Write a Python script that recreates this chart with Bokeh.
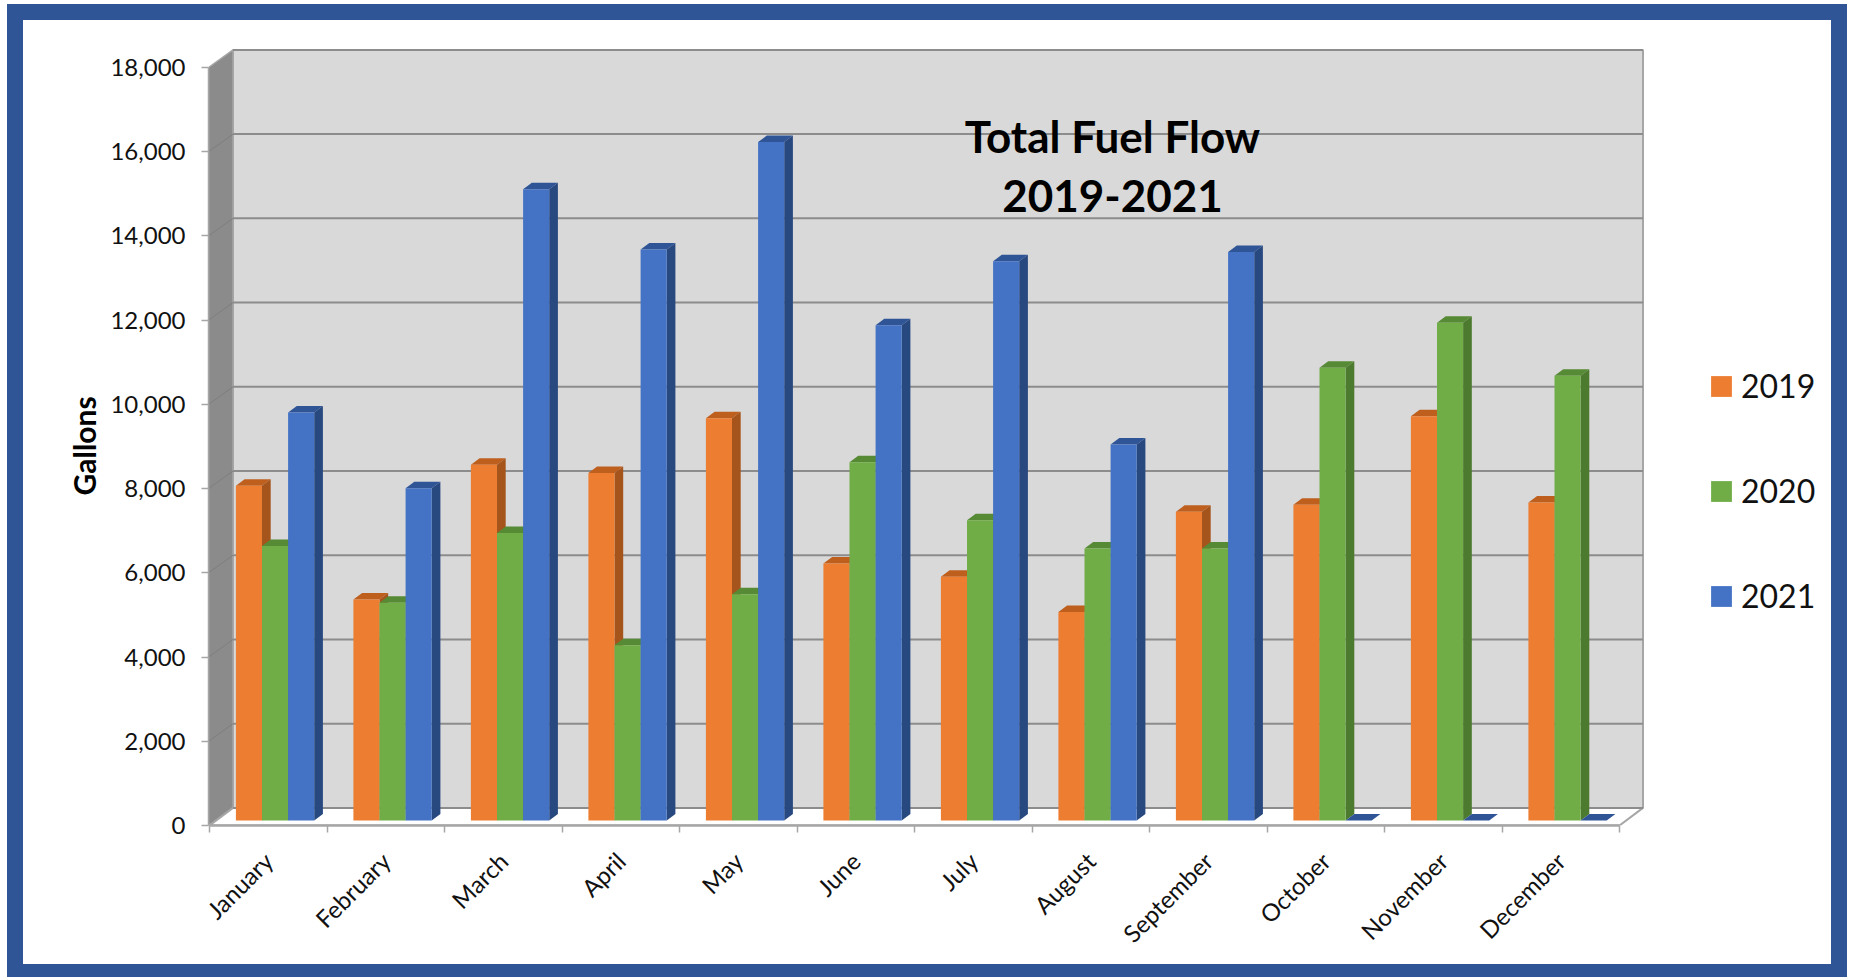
from math import pi
from bokeh.plotting import figure
from bokeh.models import Range1d, FixedTicker, NumeralTickFormatter, Legend, LegendItem, Title
from bokeh.core.properties import value
from bokeh.embed import file_html
from bokeh.resources import INLINE

months = ["January", "February", "March", "April", "May", "June", "July",
          "August", "September", "October", "November", "December"]
fuel_2019 = [7950, 5250, 8450, 8250, 9550, 6100, 5790, 4950, 7330, 7500, 9600, 7550]
fuel_2020 = [6520, 5170, 6830, 4160, 5370, 8510, 7130, 6460, 6460, 10750, 11820, 10560]
fuel_2021 = [9690, 7890, 14990, 13560, 16110, 11760, 13280, 8930, 13500, 0, 0, 0]
y_ticks = [0, 2000, 4000, 6000, 8000, 10000, 12000, 14000, 16000, 18000]
series_names = ["2019", "2020", "2021"]

FRONT = ["#ED7D31", "#70AD47", "#4472C4"]
TOP = ["#BE5F1E", "#578A35", "#2F5597"]
SIDE = ["#A5541C", "#4C7A2E", "#284880"]
GRID = "#8C8C8C"
EDGE = "#A6A6A6"
PANEL = "#2F5597"

# pixel geometry of the plot box
CAT_PX = 117.5
PX_PER_GAL = 758 / 18000
W, H = 1852, 977
LEFT, FLOOR = 208, 825
px_x = lambda px: px / CAT_PX
px_y = lambda px: px / PX_PER_GAL
WALL_DX, WALL_DY = px_x(23.5), px_y(17.6)
BAR_DX, BAR_DY = px_x(8.7), px_y(6.5)
BASE = px_y(5)
BAR_OFFSET, BAR_W = px_x(26.4), px_x(26.1)

def strip(x, y, w, h):
    return f"linear-gradient({PANEL},{PANEL}) {x}px {y}px / {w}px {h}px no-repeat"

x_start = -px_x(1)
p = figure(width=W, height=H, output_backend="svg", toolbar_location=None,
           frame_width=W - LEFT, frame_height=FLOOR,
           x_range=Range1d(x_start, x_start + px_x(W - LEFT)),
           y_range=Range1d(0, px_y(FLOOR)),
           min_border_left=LEFT, min_border_top=0, min_border_right=0,
           min_border_bottom=H - FLOOR,
           background_fill_alpha=0, border_fill_alpha=0, outline_line_color=None,
           styles={"background": ", ".join([strip(7, 4, 1840, 16), strip(7, 964, 1840, 13),
                                            strip(7, 4, 16, 973), strip(1831, 4, 16, 973)])})
p.grid.visible = False

# 3D box: back wall, side wall, floor
p.quad(left=[WALL_DX], right=[12 + WALL_DX], bottom=[WALL_DY], top=[18000 + WALL_DY],
       fill_color="#D9D9D9", line_color=EDGE, line_width=2)
p.patch([x_start, WALL_DX, WALL_DX, x_start],
        [0, WALL_DY, 18000 + WALL_DY, 18000],
        fill_color="#8B8B8B", line_color=EDGE, line_width=1.5)
p.patch([0, WALL_DX, 12 + WALL_DX, 12], [0, WALL_DY, WALL_DY, 0],
        fill_color="white", line_color=EDGE, line_width=2)
p.multi_line([[x_start, WALL_DX] for _ in y_ticks[1:-1]],
             [[v, v + WALL_DY] for v in y_ticks[1:-1]], line_color="#7E7E7E", line_width=1)
p.multi_line([[WALL_DX, 12 + WALL_DX] for _ in y_ticks],
             [[v + WALL_DY, v + WALL_DY] for v in y_ticks], line_color=GRID, line_width=2)

# bars
renderers = []
for s, vals in enumerate([fuel_2019, fuel_2020, fuel_2021]):
    x0 = [i + BAR_OFFSET + s * BAR_W for i in range(12)]
    x1 = [x + BAR_W for x in x0]
    t = [v + BASE for v in vals]
    p.patches([[a, a + BAR_DX, b + BAR_DX, b] for a, b in zip(x0, x1)],
              [[h, h + BAR_DY, h + BAR_DY, h] for h in t],
              fill_color=TOP[s], line_color=None)
    p.patches([[b, b + BAR_DX, b + BAR_DX, b] for b in x1],
              [[BASE, BASE + BAR_DY, h + BAR_DY, h] for h in t],
              fill_color=SIDE[s], line_color=None)
    renderers.append(p.quad(left=x0, right=x1, bottom=BASE, top=t,
                            fill_color=FRONT[s], line_color=None))

# axes
TICK_FONT = "Lato"
xa = p.xaxis[0]
xa.ticker = FixedTicker(ticks=[i + 0.5 for i in range(12)], minor_ticks=list(range(13)))
xa.major_label_overrides = {i + 0.5: m for i, m in enumerate(months)}
xa.major_label_orientation = pi / 4
xa.major_label_text_font = TICK_FONT
xa.major_label_text_font_size = "24px"
xa.major_label_text_color = "#111111"
xa.major_label_standoff = 24
xa.major_tick_line_color = None
xa.minor_tick_in = 0
xa.minor_tick_out = 7
xa.minor_tick_line_color = EDGE
xa.minor_tick_line_width = 1.5
xa.axis_line_color = EDGE
xa.axis_line_width = 2.5
xa.bounds = (0, 12)

ya = p.yaxis[0]
ya.ticker = FixedTicker(ticks=y_ticks)
ya.formatter = NumeralTickFormatter(format="0,0")
ya.major_label_text_font = TICK_FONT
ya.major_label_text_font_size = "24px"
ya.major_label_text_color = "#111111"
ya.major_label_standoff = 16
ya.major_tick_in = 0
ya.major_tick_out = 7
ya.major_tick_line_color = EDGE
ya.major_tick_line_width = 1.5
ya.minor_tick_line_color = None
ya.axis_line_color = EDGE
ya.axis_line_width = 1.5
ya.bounds = (0, 18000)

# y-axis title: sits off the centre of the plot box, so it is a side title with an offset
p.add_layout(Title(text="Gallons", align="left", offset=FLOOR - 495, standoff=12,
                   text_font=TICK_FONT, text_font_style="bold", text_font_size="30px",
                   text_color="black"), "left")

# title
title_lines = ["Total Fuel Flow", "2019-2021"]
p.text(x=[px_x(1112 - 209)] * 2, y=[px_y(FLOOR - 135), px_y(FLOOR - 195)], text=title_lines,
       text_align="center", text_baseline="middle", text_color="black",
       text_font=value("Lato"), text_font_style="bold", text_font_size="44px")

# legend
legend = Legend(items=[LegendItem(label=n, renderers=[r]) for n, r in zip(series_names, renderers)],
                location=(1711 - 3 - LEFT, FLOOR - 615), orientation="vertical",
                background_fill_alpha=0, border_line_color=None,
                padding=0, margin=0, spacing=66, glyph_width=26, glyph_height=26,
                label_standoff=7, label_text_font="Lato", label_text_font_size="32px",
                label_text_color="#111111", label_height=21)
p.add_layout(legend, "center")

open("out.html", "w").write(file_html(p, INLINE))
